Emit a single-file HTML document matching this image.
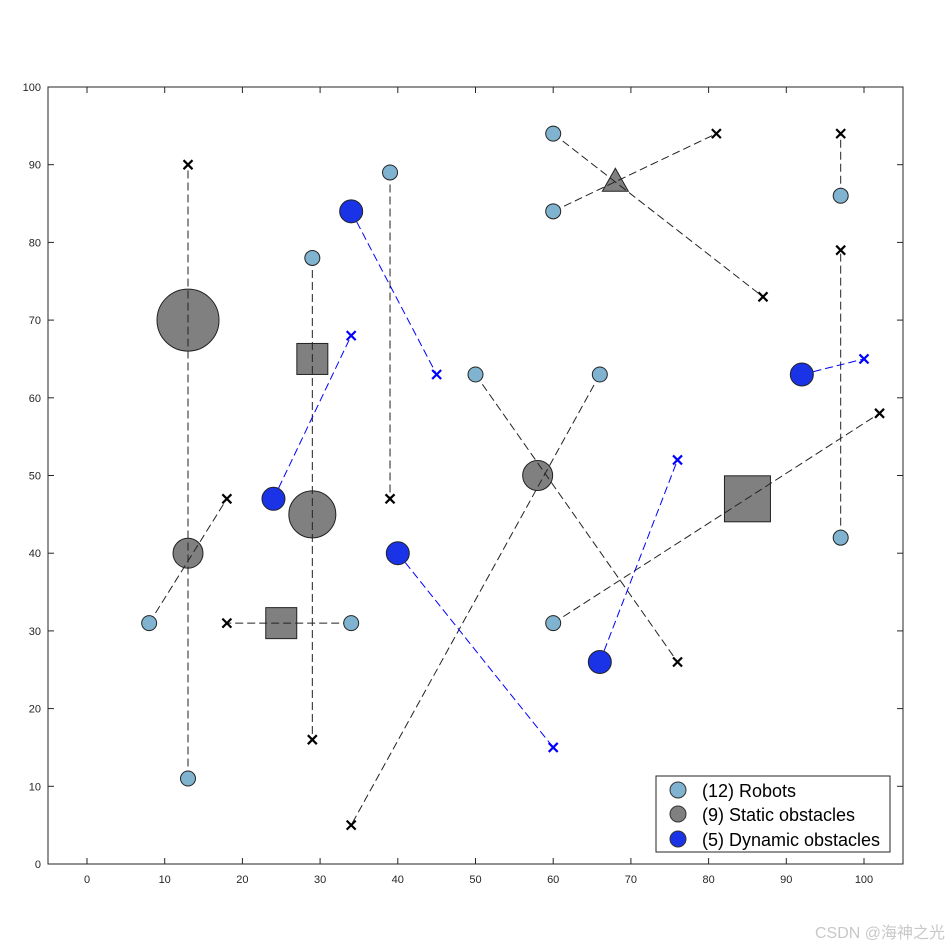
<!DOCTYPE html>
<html><head><meta charset="utf-8"><style>
html,body{margin:0;padding:0;background:#fff;}
svg{display:block;font-family:"Liberation Sans",Arial,sans-serif;}
</style></head><body>
<svg id="s" width="950" height="950" xmlns="http://www.w3.org/2000/svg">
<rect x="0" y="0" width="950" height="950" fill="#fff"/>
<g id="g"></g>
<rect x="48" y="87" width="855" height="777" fill="none" stroke="#262626" stroke-width="1"/>
<g font-size="11" fill="#262626" text-anchor="middle">
<text x="87" y="883">0</text><text x="164.7" y="883">10</text><text x="242.4" y="883">20</text><text x="320.1" y="883">30</text><text x="397.8" y="883">40</text><text x="475.5" y="883">50</text><text x="553.2" y="883">60</text><text x="630.9" y="883">70</text><text x="708.6" y="883">80</text><text x="786.3" y="883">90</text><text x="864" y="883">100</text>
</g>
<g font-size="11" fill="#262626" text-anchor="end">
<text x="41" y="868">0</text><text x="41" y="790.3">10</text><text x="41" y="712.6">20</text><text x="41" y="634.9">30</text><text x="41" y="557.2">40</text><text x="41" y="479.5">50</text><text x="41" y="401.8">60</text><text x="41" y="324.1">70</text><text x="41" y="246.4">80</text><text x="41" y="168.7">90</text><text x="41" y="91">100</text>
</g>
<rect x="656" y="776" width="234" height="76" fill="#fff" stroke="#262626" stroke-width="1"/>
<circle cx="678" cy="790" r="8" fill="#7fb3cf" stroke="#333"/>
<circle cx="678" cy="814" r="8" fill="#808080" stroke="#333"/>
<circle cx="678" cy="839" r="8" fill="#1a33e6" stroke="#333"/>
<g font-size="18" fill="#000">
<text x="702" y="797">(12) Robots</text>
<text x="702" y="821">(9) Static obstacles</text>
<text x="702" y="846">(5) Dynamic obstacles</text>
</g>
<text x="945" y="938" font-size="16" fill="#c8c8c8" text-anchor="end" font-family="'Liberation Sans','Noto Sans CJK SC',sans-serif">CSDN @海神之光</text>
</svg>
<script>
var g=document.getElementById('g'),NS="http://www.w3.org/2000/svg";
function X(x){return 87+7.77*x}function Y(y){return 864-7.77*y}
function el(t,a){var e=document.createElementNS(NS,t);for(var k in a)e.setAttribute(k,a[k]);g.appendChild(e);return e}
for(var i=0;i<=10;i++){var x=X(i*10),y=Y(i*10);
el('line',{x1:x,y1:864,x2:x,y2:858,stroke:'#262626'});el('line',{x1:x,y1:87,x2:x,y2:93,stroke:'#262626'});
el('line',{x1:48,y1:y,x2:54,y2:y,stroke:'#262626'});el('line',{x1:903,y1:y,x2:897,y2:y,stroke:'#262626'});}
var rl=[[13,11,13,90],[8,31,18,47],[34,31,18,31],[29,78,29,16],[39,89,39,47],[66,63,34,5],[60,94,87,73],[60,84,81,94],[50,63,76,26],[97,86,97,94],[97,42,97,79],[60,31,102,58]];
var dl=[[34,84,45,63],[24,47,34,68],[40,40,60,15],[66,26,76,52],[92,63,100,65]];
function ln(a,c){el('line',{x1:X(a[0]),y1:Y(a[1]),x2:X(a[2]),y2:Y(a[3]),stroke:c,'stroke-width':1,'stroke-dasharray':'8,4'})}
function xm(x,y,c){var px=X(x),py=Y(y);el('path',{d:'M'+(px-4.5)+' '+(py-4.5)+'L'+(px+4.5)+' '+(py+4.5)+'M'+(px+4.5)+' '+(py-4.5)+'L'+(px-4.5)+' '+(py+4.5),stroke:c,'stroke-width':2.2})}
var gr='#808080';
function circ(x,y,r,f){el('circle',{cx:X(x),cy:Y(y),r:r,fill:f,stroke:'#222','stroke-width':1})}
function sq(x,y,s){el('rect',{x:X(x)-s/2,y:Y(y)-s/2,width:s,height:s,fill:gr,stroke:'#222'})}
circ(13,70,31,gr);circ(13,40,15,gr);circ(29,45,23.5,gr);circ(58,50,15,gr);
sq(29,65,31);sq(25,31,31);sq(85,47,46);
var tx=X(68),ty=Y(88);el('polygon',{points:(tx-13)+','+(ty+11)+' '+(tx+13)+','+(ty+11)+' '+tx+','+(ty-12),fill:gr,stroke:'#222'});
rl.forEach(function(a){ln(a,'#222')});dl.forEach(function(a){ln(a,'#0000ff')});
[[8,31],[13,11],[29,78],[34,31],[39,89],[50,63],[60,94],[60,84],[60,31],[66,63],[97,86],[97,42]].forEach(function(p){circ(p[0],p[1],7.5,'#7fb3cf')});
dl.forEach(function(a){circ(a[0],a[1],11.5,'#1a33e6');xm(a[2],a[3],'#0000ff')});
rl.forEach(function(a){xm(a[2],a[3],'#000')});
</script>
</body></html>
